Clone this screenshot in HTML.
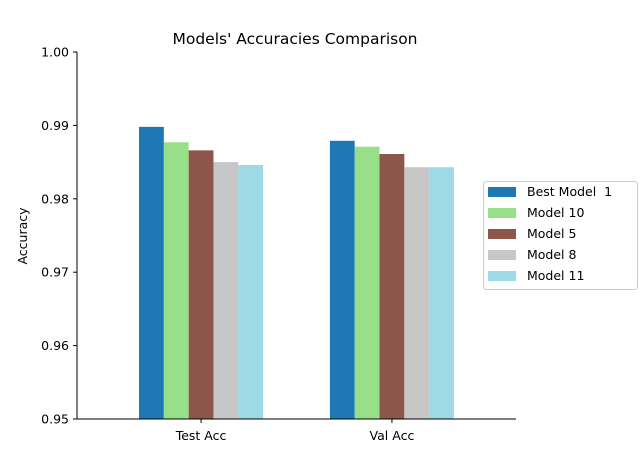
<!DOCTYPE html>
<html><head><meta charset="utf-8"><style>
body{margin:0;background:#fff;font-family:"Liberation Sans","DejaVu Sans",sans-serif;}
svg text{font-family:"DejaVu Sans","Liberation Sans",sans-serif;}
</style></head><body>
<svg id="chart" width="644" height="452" viewBox="0 0 644 452" xmlns="http://www.w3.org/2000/svg">
<rect width="644" height="452" fill="#fff"/>
<text x="295" y="44" font-size="15.5" text-anchor="middle" fill="#000">Models' Accuracies Comparison</text>
<g id="bars"></g>
<g id="axes"></g>
<g id="legend"></g>
</svg>
<script>
const categories = ["Test Acc", "Val Acc"];
const seriesNames = ["Best Model  1", "Model 10", "Model 5", "Model 8", "Model 11"];
const seriesColors = ["#1f77b4", "#98df8a", "#8c564b", "#c7c7c7", "#9edae5"];
const bestModel1 = [0.9898, 0.9879];
const model10 = [0.9877, 0.9871];
const model5 = [0.9866, 0.9861];
const model8 = [0.9850, 0.9843];
const model11 = [0.9846, 0.9843];
const yTicks = [0.95, 0.96, 0.97, 0.98, 0.99, 1.00];
const yTickLabels = ["0.95", "0.96", "0.97", "0.98", "0.99", "1.00"];

const NS = "http://www.w3.org/2000/svg";
const L = 77, R = 516, T = 52, B = 419;
const yMin = 0.95, yMax = 1.0, xMin = -0.65, xMax = 1.65, bw = 0.13;
const y = v => B - (v - yMin) / (yMax - yMin) * (B - T);
const x = v => L + (v - xMin) / (xMax - xMin) * (R - L);
function mk(tag, attrs, parent) { const e = document.createElementNS(NS, tag); for (const k in attrs) e.setAttribute(k, attrs[k]); parent.appendChild(e); return e; }

const series = [bestModel1, model10, model5, model8, model11];
const barsG = document.getElementById("bars");
series.forEach((s, si) => {
  s.forEach((v, ci) => {
    const x0 = x(ci - 2.5 * bw + si * bw);
    const r = mk("rect", { x: x0, y: y(v), width: x(bw) - x(0), height: B - y(v), fill: seriesColors[si] }, barsG);
    
    
  });
});

const ax = document.getElementById("axes");
const la = mk("line", { x1: L, y1: T, x2: L, y2: B, stroke: "#000", "stroke-width": 1 }, ax);


const ba = mk("line", { x1: L, y1: B, x2: R, y2: B, stroke: "#000", "stroke-width": 1 }, ax);


yTicks.forEach((t, i) => {
  mk("line", { x1: L - 4, y1: y(t), x2: L, y2: y(t), stroke: "#000" }, ax);
  const tx = mk("text", { x: L - 8, y: y(t) + 4.5, "font-size": 12.5, "text-anchor": "end" }, ax);
  tx.textContent = yTickLabels[i];
  
  
});
categories.forEach((c, i) => {
  mk("line", { x1: x(i), y1: B, x2: x(i), y2: B + 4, stroke: "#000" }, ax);
  const tx = mk("text", { x: x(i), y: B + 21, "font-size": 12.5, "text-anchor": "middle" }, ax);
  tx.textContent = c;
  
  
});
const yt = mk("text", { x: 0, y: 0, "font-size": 12.5, "text-anchor": "middle", transform: "translate(27,236) rotate(-90)" }, ax);
yt.textContent = "Accuracy";



const lg = document.getElementById("legend");
mk("rect", { x: 483.5, y: 181.5, width: 154, height: 108, rx: 3, fill: "#fff", stroke: "#ccc" }, lg);
seriesNames.forEach((n, i) => {
  const yy = 191 + i * 21;
  const sw = mk("rect", { x: 488, y: yy - 4, width: 28, height: 10, fill: seriesColors[i] }, lg);
  
  
  const t = mk("text", { x: 527, y: yy + 5, "font-size": 12.5 }, lg);
  t.textContent = n;
  t.setAttribute('xml:space', 'preserve');
  t.style.whiteSpace = 'pre';
  
  
});
</script>
</body></html>
